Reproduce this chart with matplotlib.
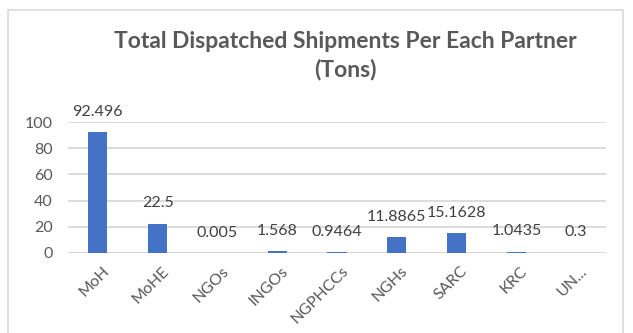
import matplotlib
matplotlib.use("Agg")
import matplotlib.pyplot as plt
from matplotlib.patches import Rectangle
import matplotlib.transforms as mtransforms

categories = ["MoH", "MoHE", "NGOs", "INGOs", "NGPHCCs", "NGHs", "SARC", "KRC", "UN..."]
values = [92.496, 22.5, 0.005, 1.568, 0.9464, 11.8865, 15.1628, 1.0435, 0.3]
labels = ["92.496", "22.5", "0.005", "1.568", "0.9464", "11.8865", "15.1628", "1.0435", "0.3"]
yticks = [0, 20, 40, 60, 80, 100]

plt.rcParams['font.family'] = ['Lato', 'DejaVu Sans']

fig = plt.figure(figsize=(6.33, 3.33), dpi=100)
fig.patch.set_facecolor('white')
ax = fig.add_axes([68/633, 1-253/333, (606-68)/633, (253-122)/333])

# outer chart frame
fig.patches.append(Rectangle((8/633, -0.1), (623-8)/633, 1.1 - 10/333,
                             transform=fig.transFigure, fill=False,
                             edgecolor='#d9d9d9', linewidth=1.2))

x = list(range(len(categories)))
ax.bar(x, values, width=0.32, color='#4472C4', zorder=3)

for xi, v, lab in zip(x, values, labels):
    ax.annotate(lab, (xi, v), xytext=(0, 14.5), textcoords='offset points',
                ha='center', va='center', fontsize=11.5, color='#404040')

ax.set_xlim(-0.5, len(categories) - 0.5)
ax.set_ylim(0, 100)
ax.set_yticks(yticks)
ax.set_yticklabels([str(t) for t in yticks], fontsize=11.5, color='#595959')
ax.yaxis.grid(True, color='#d9d9d9', linewidth=1.3, zorder=0)
ax.set_axisbelow(True)
ax.tick_params(axis='y', length=0, pad=11)
ax.tick_params(axis='x', length=0, pad=8)
ax.set_xticks(x)
ax.set_xticklabels(categories, rotation=45, ha='right', va='top',
                   rotation_mode='anchor', fontsize=11.5, color='#595959')
offset = mtransforms.ScaledTranslation(4/100, 0, fig.dpi_scale_trans)
for lbl in ax.get_xticklabels():
    lbl.set_transform(lbl.get_transform() + offset)
for s in ax.spines.values():
    s.set_visible(False)
ax.axhline(0, color='#d9d9d9', linewidth=1.3, zorder=1)

fig.text(345/633, 1-42/333, "Total Dispatched Shipments Per Each Partner",
         ha='center', va='center', fontsize=16.5, fontweight='bold', color='#595959')
fig.text(345/633, 1-70/333, "(Tons)",
         ha='center', va='center', fontsize=16.5, fontweight='bold', color='#595959')

fig.savefig("out.png", dpi=100)
